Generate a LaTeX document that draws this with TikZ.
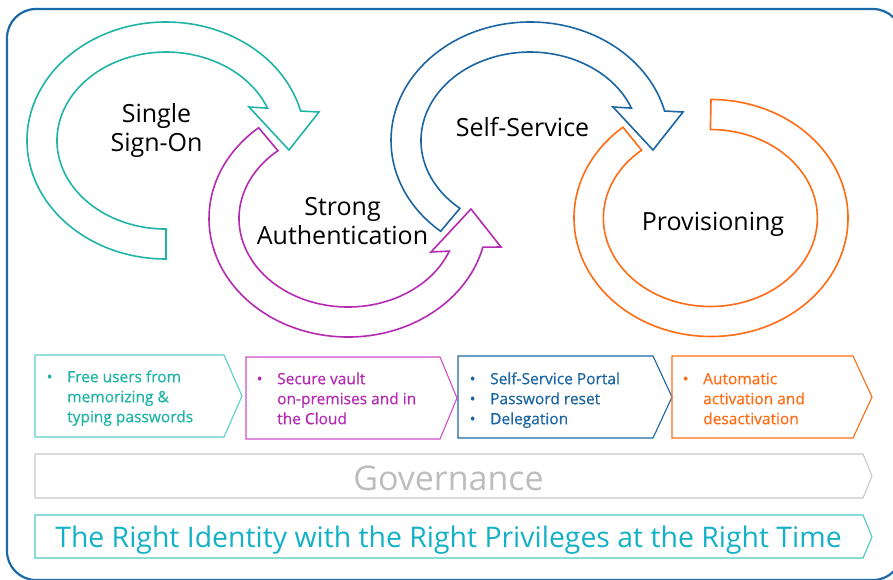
\documentclass[tikz,border=0pt]{standalone}
\usepackage{fontspec}
\setmainfont{Open Sans}
\newfontfamily\medfont{Open Sans}[FakeBold=0.6]
\definecolor{frameblue}{HTML}{1B6AA6}
\definecolor{cteal}{HTML}{1FB4A6}
\definecolor{cmag}{HTML}{B52AB2}
\definecolor{cblue}{HTML}{1B65A3}
\definecolor{corange}{HTML}{FF6C14}
\definecolor{tealbox}{HTML}{5CCDC4}
\definecolor{magbox}{HTML}{CF4FCB}
\definecolor{grayline}{HTML}{CACACA}
\definecolor{graytext}{HTML}{BDBDBD}
\definecolor{cyantext}{HTML}{14B1C6}
\definecolor{cyanbox}{HTML}{4FC8C2}
\begin{document}
\begin{tikzpicture}[x=1pt,y=-1pt,
  band/.style={line width=1.6pt, line join=miter, miter limit=10},
  big/.style={font=\fontsize{25}{29}\selectfont, text=black, inner sep=0pt},
  boxtext/.style={font=\medfont\fontsize{15.5}{20}\selectfont, align=left, anchor=north west, inner sep=0pt},
  chev/.style={line width=1.1pt, line join=miter}]
\useasboundingbox (0,0) rectangle (893,579);
% outer frame
\draw[frameblue, line width=2.2pt, rounded corners=29pt] (7,9) rectangle (902,580);

% teal arrow (Single Sign-On)
\draw[band, cteal] (166,259)
  arc[start angle=90, end angle=345.6, x radius=139, y radius=118.5]
  -- (319,112) -- (289,150) -- (249,107) -- (267.4,108.1)
  arc[start angle=338.5, end angle=90, x radius=109, y radius=88.5] -- cycle;

% magenta arrow (Strong Authentication)
\draw[band, cmag] (258.65,127.73)
  arc[start angle=230, end angle=14, x radius=139, y radius=118.5]
  -- (501,247) -- (471,209) -- (431,252) -- (449.35,251.08)
  arc[start angle=21.6, end angle=230, x radius=109, y radius=88.5] -- cycle;

% blue arrow (Self-Service)
\draw[band, cblue] (440.65,231.27)
  arc[start angle=130, end angle=345.6, x radius=139, y radius=118.5]
  -- (683,112) -- (653,150) -- (613,107) -- (631.4,108.1)
  arc[start angle=338.5, end angle=130, x radius=109, y radius=88.5] -- cycle;

% orange ring (Provisioning)
\draw[band, corange] (711,99.5)
  arc[start angle=270, end angle=590, x radius=137, y radius=118.5]
  -- (641.6,150.2)
  arc[start angle=590, end angle=270, x radius=107, y radius=88.5] -- cycle;

% labels
\node[big, align=center, anchor=north] (sso) at (156.5,100) {\rule{0pt}{22pt}Single\\Sign-On};
\node[big, align=center, anchor=north] (strong) at (342.5,193) {\rule{0pt}{22pt}Strong\\Authentication};
\node[big, anchor=base] (self) at (522.5,136) {Self-Service};
\node[big, anchor=base] (prov) at (713,230) {Provisioning};

% chevron boxes
\draw[chev, tealbox] (35,355) -- (224,355) -- (242,396) -- (224,437) -- (35,437) -- cycle;
\draw[chev, magbox] (246,357) -- (440,357) -- (457,398) -- (440,439) -- (246,439) -- cycle;
\draw[chev, cblue] (458,356) -- (653,356) -- (672,397) -- (653,438) -- (458,438) -- cycle;
\draw[chev, corange] (672,356) -- (853,356) -- (872,397) -- (853,438) -- (672,438) -- cycle;

\node[boxtext, text=cteal] (t1) at (46.5,367) {\rule{0pt}{15pt}\makebox[20.5pt][l]{•}Free users from\\\hspace*{20.5pt}memorizing \&\\\hspace*{20.5pt}typing passwords};
\node[boxtext, text=cmag] (t2) at (256.5,369) {\rule{0pt}{15pt}\makebox[20.5pt][l]{•}Secure vault\\\hspace*{20.5pt}on-premises and in\\\hspace*{20.5pt}the Cloud};
\node[boxtext, text=cblue] (t3) at (469.5,369) {\rule{0pt}{15pt}\makebox[20.5pt][l]{•}Self-Service Portal\\\makebox[20.5pt][l]{•}Password reset\\\makebox[20.5pt][l]{•}Delegation};
\node[boxtext, text=corange] (t4) at (682.5,369) {\rule{0pt}{15pt}\makebox[20.5pt][l]{•}Automatic\\\hspace*{20.5pt}activation and\\\hspace*{20.5pt}desactivation};

% governance
\draw[chev, grayline] (35,454) -- (863,454) -- (872,476) -- (863,498) -- (35,498) -- cycle;
\node[anchor=base, inner sep=0pt, font=\fontsize{34}{40}\selectfont, text=graytext] (gov) at (448.5,490) {Governance};

% motto
\draw[chev, cyanbox] (35,515) -- (863,515) -- (872,537) -- (863,558) -- (35,558) -- cycle;
\node[anchor=base, inner sep=0pt, font=\fontsize{28.4}{34}\selectfont, text=cyantext] (motto) at (448.5,547) {The Right Identity with the Right Privileges at the Right Time};
\end{tikzpicture}
\end{document}
